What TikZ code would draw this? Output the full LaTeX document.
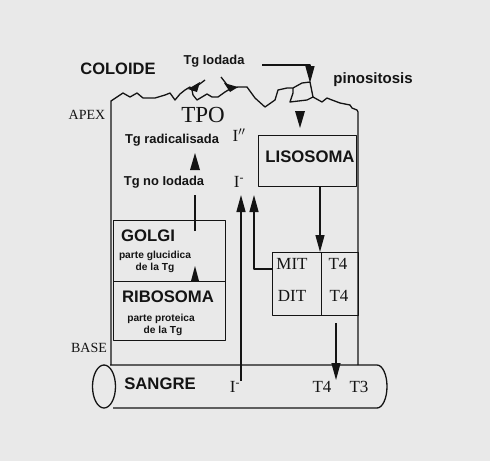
\documentclass[tikz,border=0pt]{standalone}
\usepackage{fontspec}
\setmainfont{Liberation Serif}
\setsansfont{Liberation Sans}
\usetikzlibrary{arrows.meta}
\definecolor{bg}{RGB}{233,233,233}
\definecolor{ink}{RGB}{20,20,20}
\begin{document}
\begin{tikzpicture}[x=1pt,y=-1pt,line width=1.3pt,line join=round,
  lbl/.style={font=\sffamily\bfseries\fontsize{12.9}{14}\selectfont,inner sep=0pt,text=ink},
  big/.style={font=\sffamily\bfseries\fontsize{16.7}{18}\selectfont,inner sep=0pt,text=ink},
  small/.style={font=\sffamily\bfseries\fontsize{10.2}{11.6}\selectfont,inner sep=0pt,align=center,text=ink},
  ser/.style={font=\fontsize{17}{19}\selectfont,inner sep=0pt,text=ink},
  serS/.style={font=\fontsize{14}{16}\selectfont,inner sep=0pt,text=ink},
  arr/.style={draw=ink,-{Triangle[length=17pt,width=9pt]}},
  boxst/.style={draw=ink,line width=1.3pt,inner sep=0pt,anchor=north west}]

\fill[bg] (0,0) rectangle (490,461);
\useasboundingbox (0,0) rectangle (490,461);

% cell membrane and walls
\draw[ink] (111,365) -- (111,101) -- (117,97) -- (123,93) -- (130,97) -- (137,93) -- (143,98)
  -- (155,98) -- (165,95) -- (170,93) -- (175,100) -- (180,94) -- (185,90) -- (190,87)
  -- (192,90) -- (193,95) -- (197,100) -- (202,97) -- (207,94) -- (212,97) -- (218,97)
  -- (225,92) -- (230,89) -- (238,87) -- (247,87) -- (255,98) -- (265,107) -- (275,100)
  -- (278,90) -- (287,88) -- (293,88) -- (302,83) -- (310,82) -- (312,92) -- (313,97)
  -- (322,102) -- (327,98) -- (332,100) -- (340,103) -- (350,105) -- (352,108) -- (357,110)
  -- (358,112) -- (358,365);
% vesicle bottom
\draw[ink] (313,97) -- (307,100) -- (290,102) -- (293,93) -- (293,88);
% TPO molecules
\fill[ink] (188,89) -- (200,82) -- (197,92) -- cycle;
\draw[ink] (197,86) -- (205,80);
\draw[ink] (221,77) -- (228,86);
\fill[ink] (224,83) -- (230,92) -- (238,87) -- cycle;

% standalone arrowheads
\fill[ink] (295,111) -- (305,111) -- (300,128) -- cycle;
\fill[ink] (190,170) -- (200,170) -- (195,153) -- cycle;
\fill[ink] (191,281) -- (199,281) -- (195,266) -- cycle;

% boxes
\node[boxst,minimum width=98pt,minimum height=51pt] (liso) at (258,135) {};
\node[boxst,minimum width=112pt,minimum height=61pt] (golgi) at (113,220) {};
\node[boxst,minimum width=112pt,minimum height=59pt] (ribo) at (113,281) {};
\node[boxst,minimum width=49pt,minimum height=63pt] (mit) at (272,252) {};
\node[boxst,minimum width=37pt,minimum height=63pt] (t4b) at (321,252) {};

% sangre vessel
\draw[ink] (110,365) -- (377,365) arc[start angle=-90,end angle=90,x radius=10,y radius=21.5]
  -- (113,408);
\draw[ink] (104,386.5) ellipse[x radius=11.5,y radius=21.5];

% texts
\node[big,font=\sffamily\bfseries\fontsize{16.5}{18}\selectfont] (coloide) at (118,69) {COLOIDE};
\node[lbl] (tgi) at (214,61) {Tg Iodada};
\node[lbl,font=\sffamily\bfseries\fontsize{15}{17}\selectfont] (pino) at (373,80) {pinositosis};
\node[serS] (apex) at (87,115) {APEX};
\node[ser,font=\fontsize{23}{25}\selectfont] (tpo) at (203,115) {TPO};
\node[lbl] (tgr) at (172,140) {Tg radicalisada};
\node[ser] (i1) at (239,135) {I$^{\prime\prime}$};
\node[big] (lisot) at (310,157) {LISOSOMA};
\node[lbl] (tgn) at (164,182) {Tg no Iodada};
\node[ser] (i2) at (239,182) {I\textsuperscript{-}};
\node[big] (golgit) at (148,236) {GOLGI};
\node[small] (pg) at (155,262) {parte glucidica\\de la Tg};
\node[big] (ribot) at (168,297) {RIBOSOMA};
\node[small] (pp) at (161,325) {parte proteica\\\hspace*{4pt}de la Tg};
\node[ser] (mitt) at (292,264) {MIT};
\node[ser] (t4a) at (338,264) {T4};
\node[ser] (ditt) at (292,296) {DIT};
\node[ser] (t4c) at (339,296) {T4};
\node[serS] (base) at (89,348) {BASE};
\node[big] (sangre) at (160,384) {SANGRE};
\node[ser] (i3) at (235,387) {I\textsuperscript{-}};
\node[ser] (t4s) at (322,387) {T4};
\node[ser] (t3s) at (359,387) {T3};

% connectors
\coordinate (tgiS) at (262,65);
\coordinate (vesT) at (310,83);
\draw[arr] (tgiS) -| (vesT);
\coordinate (gU) at (195,231);
\coordinate (gT) at (195,195);
\draw[ink] (gU) -- (gT);
\draw[arr] (liso.south -| 320,0) -- (mit.north -| 320,0);
\coordinate (sI) at (241,381);
\coordinate (sIt) at (241,195);
\draw[arr] (sI) -- (sIt);
\coordinate (mitL) at (272,269);
\coordinate (mitT) at (254,195);
\draw[arr] (mitL) -| (mitT);
\coordinate (t4S) at (336,323);
\coordinate (t4E) at (336,380);
\draw[arr] (t4S) -- (t4E);
\end{tikzpicture}
\end{document}
